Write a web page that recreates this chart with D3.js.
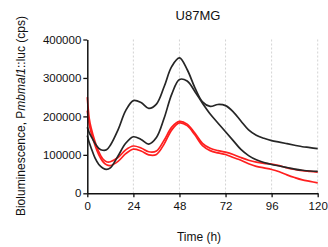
<html>
    <head>
        <meta charset="utf-8">
        <script src="https://d3js.org/d3.v7.min.js"></script>
        <title>U87MG</title>
        <style>
            body { margin: 0; background: white; }
            text { font-family: "Liberation Sans", Arial, sans-serif; }
        </style>
    </head>
    <body>
        <svg id="chart"></svg>
        <script>
            // time points (h)
            const times = [0, 1, 2, 4, 6, 8, 10, 12, 16, 20, 24, 28, 32, 36, 40, 44, 48, 52, 56, 60,
                           64, 68, 72, 76, 80, 84, 88, 92, 96, 100, 104, 108, 112, 116, 120];

            // black traces
            const blackA = [172000, 158000, 148000, 130000, 117000, 112000, 113000, 125000, 165000, 215000,
                            241000, 236000, 221000, 232000, 277000, 330000, 352000, 322000, 275000, 238000,
                            226000, 231000, 228000, 212000, 188000, 165000, 151000, 143000, 137000, 133000,
                            129000, 125000, 121000, 119000, 116000];
            const blackB = [150000, 132000, 118000, 92000, 75000, 66000, 62000, 66000, 97000, 130000,
                            147000, 140000, 128000, 145000, 195000, 258000, 296000, 292000, 265000, 234000,
                            206000, 183000, 160000, 137000, 114000, 98000, 87000, 80000, 75000, 71000,
                            67000, 63000, 60000, 58000, 57000];

            // red traces
            const redA = [250000, 195000, 170000, 135000, 108000, 90000, 82000, 82000, 93000, 113000,
                          123000, 118000, 108000, 110000, 138000, 172000, 187000, 180000, 157000, 130000,
                          117000, 111000, 107000, 101000, 93000, 86000, 81000, 78000, 76000, 72000,
                          66000, 62000, 59000, 57000, 55000];
            const redB = [215000, 180000, 158000, 125000, 100000, 83000, 74000, 72000, 83000, 103000,
                          115000, 110000, 100000, 101000, 128000, 165000, 183000, 176000, 152000, 124000,
                          111000, 105000, 101000, 93000, 86000, 77000, 70000, 66000, 62000, 56000,
                          48000, 41000, 35000, 31000, 27000];

            const xTicks = [0, 24, 48, 72, 96, 120];
            const yTicks = [0, 100000, 200000, 300000, 400000];

            const width = 328, height = 247;
            const svg = d3.select("svg#chart")
                          .attr("width", width)
                          .attr("height", height);

            const xScale = d3.scaleLinear().domain([0, 120]).range([87.3, 317.7]);
            const yScale = d3.scaleLinear().domain([0, 400000]).range([193.3, 39.5]);

            // dashed vertical grid
            svg.selectAll("line.grid").data(xTicks.slice(1))
               .join("line")
               .attr("class", "grid")
               .attr("x1", d => xScale(d))
               .attr("x2", d => xScale(d))
               .attr("y1", yScale(400000))
               .attr("y2", yScale(0))
               .style("stroke", "#c8c8c8")
               .style("stroke-width", 0.8)
               .style("stroke-dasharray", "2,2");

            const line = d3.line()
                           .x((d, i) => xScale(times[i]))
                           .y(d => yScale(d))
                           .curve(d3.curveCatmullRom.alpha(0.5));

            const series = [
                {vals: redA, color: "#ff1f1f"},
                {vals: redB, color: "#ff1f1f"},
                {vals: blackA, color: "#262626"},
                {vals: blackB, color: "#262626"}
            ];

            svg.selectAll("path.trace").data(series)
               .join("path")
               .attr("class", "trace")
               .attr("d", d => line(d.vals))
               .style("fill", "none")
               .style("stroke", d => d.color)
               .style("stroke-width", 1.7);

            // axes
            const xAxis = d3.axisBottom(xScale).tickValues(xTicks)
                            .tickSize(4).tickSizeOuter(0).tickPadding(5);
            const yAxis = d3.axisLeft(yScale).tickValues(yTicks)
                            .tickSize(4).tickSizeOuter(0).tickPadding(2)
                            .tickFormat(d3.format("d"));

            const gx = svg.append("g").attr("transform", "translate(0," + yScale(0) + ")").call(xAxis);
            const gy = svg.append("g").attr("transform", "translate(" + xScale(0) + ",0)").call(yAxis);

            [gx, gy].forEach(g => {
                g.select(".domain").style("stroke", "#111").style("stroke-width", 1.5);
                g.selectAll(".tick line").style("stroke", "#111").style("stroke-width", 1.3);
                g.selectAll(".tick text")
                 .style("font-family", "'Liberation Sans', Arial, sans-serif")
                 .style("font-size", "11.5px")
                 .style("fill", "#111");
            });

            // title
            svg.append("text")
               .attr("x", 198)
               .attr("y", 20)
               .attr("text-anchor", "middle")
               .style("font-size", "13px")
               .style("fill", "#111")
               .text("U87MG");

            // x label
            svg.append("text")
               .attr("x", 199)
               .attr("y", 241)
               .attr("text-anchor", "middle")
               .style("font-size", "12px")
               .style("fill", "#111")
               .text("Time (h)");

            // y label
            const ylab = svg.append("text")
               .attr("transform", "translate(25,116) rotate(-90)")
               .attr("text-anchor", "middle")
               .style("font-size", "12px")
               .style("fill", "#111");
            ylab.append("tspan").text("Bioluminescence, P");
            ylab.append("tspan").style("font-style", "italic").text("mbmal1");
            ylab.append("tspan").text("::luc (cps)");
        </script>
    </body>
</html>
